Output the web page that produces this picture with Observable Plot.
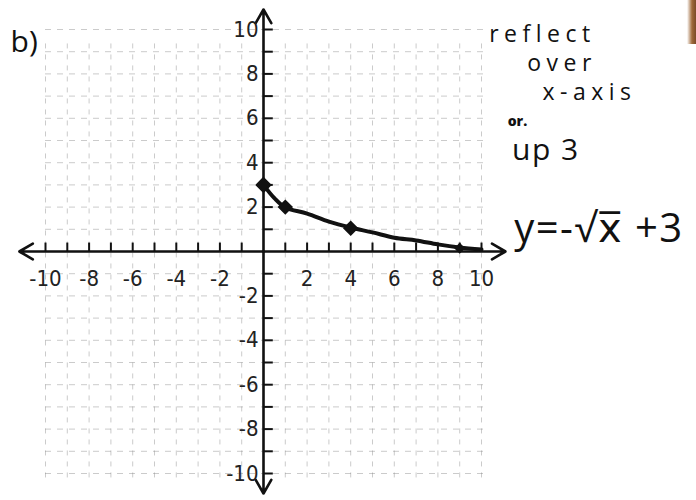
<!DOCTYPE html>
<html>
<head>
<meta charset="utf-8">
<script src="https://cdn.jsdelivr.net/npm/d3@7"></script>
<script src="https://cdn.jsdelivr.net/npm/@observablehq/plot@0.6"></script>
<style>
  html, body { margin: 0; padding: 0; background: #fff; }
  #chart { position: relative; width: 696px; height: 500px; overflow: hidden; }
  #chart svg { overflow: visible; }
  .edge { position: absolute; right: 0; top: 0; width: 9px; height: 44px;
          background: linear-gradient(90deg, rgba(170,110,60,0) 0%, #a06a3c 55%, #7a4a28 100%); }
</style>
</head>
<body>
<div id="chart"><div class="edge"></div></div>
<script>
// Graph-paper lines, one per unit
const gridUnits = [-10, -9, -8, -7, -6, -5, -4, -3, -2, -1, 0, 1, 2, 3, 4, 5, 6, 7, 8, 9, 10];
// Small tick marks on the axes
const tickUnits = [-10, -9, -8, -7, -6, -5, -4, -3, -2, -1, 1, 2, 3, 4, 5, 6, 7, 8, 9, 10];
// Numbered ticks
const xLabels = [-10, -8, -6, -4, -2, 2, 4, 6, 8, 10];
const yLabels = [10, 8, 6, 4, 2, -2, -4, -6, -8, -10];
// Axis extents (arrow tips)
const xAxisEnds = [-11.2, 11.1];
const yAxisEnds = [-10.9, 10.9];

// y = -sqrt(x) + 3, sketched curve
const curveX = [0, 0.5, 1, 2, 3, 4, 5, 6, 7, 8, 9, 10];
const curveY = [3, 2.4, 1.98, 1.71, 1.35, 1.08, 0.86, 0.62, 0.5, 0.32, 0.18, 0.09];
// Plotted points
const pointX = [0, 1, 4, 9];
const pointY = [3, 2, 1.05, 0.15];
const pointR = [6.5, 6, 6, 4];

// Handwritten notes beside the graph
const notes = ["reflect", "over", "x-axis", "or.", "up 3", "y=-√x̅ +3"];

const curve = curveX.map((x, i) => ({x, y: curveY[i]}));
const points = pointX.map((x, i) => ({x, y: pointY[i], r: pointR[i]}));

const hand = "'Open Sans', 'DejaVu Sans', sans-serif";
const digits = "'DejaVu Sans Condensed', 'DejaVu Sans', sans-serif";

const note = (t, x, y, size, extra = {}) =>
  Plot.text([t], {x, y, text: d => d, textAnchor: "start", fontSize: size, fontFamily: hand, fontWeight: 400, fill: "#111", ...extra});

const plot = Plot.plot({
  width: 696,
  height: 500,
  margin: 0,
  x: {domain: [-10, 10], range: [45, 481], axis: null},
  y: {domain: [-10, 10], range: [473, 29], axis: null},
  r: {type: "identity"},
  marks: [
    // graph paper
    Plot.ruleX(gridUnits, {x: d => d, y1: -10.2, y2: 9.6, stroke: "#8c8c8c", strokeWidth: 1, strokeDasharray: "5,6", strokeOpacity: 0.45}),
    Plot.ruleY(gridUnits, {y: d => d, x1: -10, x2: 10.2, stroke: "#8c8c8c", strokeWidth: 1, strokeDasharray: "6,6", strokeOpacity: 0.45}),

    // axes with arrowheads at both ends
    Plot.arrow(xAxisEnds, {x1: 0, y1: 0, x2: d => d, y2: 0, stroke: "#111", strokeWidth: 2.6, headLength: 9, headAngle: 60}),
    Plot.arrow(yAxisEnds, {x1: 0, y1: 0, x2: 0, y2: d => d, stroke: "#111", strokeWidth: 2.6, headLength: 9, headAngle: 60}),

    // tick marks
    Plot.ruleX(tickUnits, {x: d => d, y1: 0, y2: 0.38, stroke: "#111", strokeWidth: 2}),
    Plot.ruleY(tickUnits, {y: d => d, x1: 0, x2: 0.45, stroke: "#111", strokeWidth: 2}),

    // tick labels
    Plot.text(xLabels, {x: d => d, y: 0, dy: 27, text: d => String(d), fontSize: 22, fontFamily: digits, fill: "#222"}),
    Plot.text(yLabels, {x: 0, y: d => d, dx: -5, text: d => String(d), textAnchor: "end", fontSize: 22, fontFamily: digits, fill: "#222"}),

    // the curve and its points
    Plot.line(curve, {x: "x", y: "y", curve: "catmull-rom", stroke: "#111", strokeWidth: 4}),
    Plot.dot(points, {x: "x", y: "y", r: "r", fill: "#111", stroke: "#111", symbol: "diamond2"}),

    // notes
    note("b)", -11.6, 9.4, 30),
    note(notes[0], 10.35, 9.75, 23),
    note(notes[1], 12.1, 8.45, 23),
    note(notes[2], 12.8, 7.15, 23),
    note(notes[3], 11.2, 5.85, 14, {fontWeight: 900}),
    note(notes[4], 11.4, 4.55, 30),
    note(notes[5], 11.5, 1.0, 40)
  ]
});

// hand lettering is loosely spaced
d3.select(plot).selectAll("text")
  .filter(function() { return notes.slice(0, 3).includes(this.textContent); })
  .style("letter-spacing", "5.5px");
d3.select(plot).selectAll("text")
  .filter(function() { return this.textContent === notes[4] || this.textContent === notes[5]; })
  .style("letter-spacing", "1.5px");

document.getElementById("chart").appendChild(plot);
</script>
</body>
</html>
